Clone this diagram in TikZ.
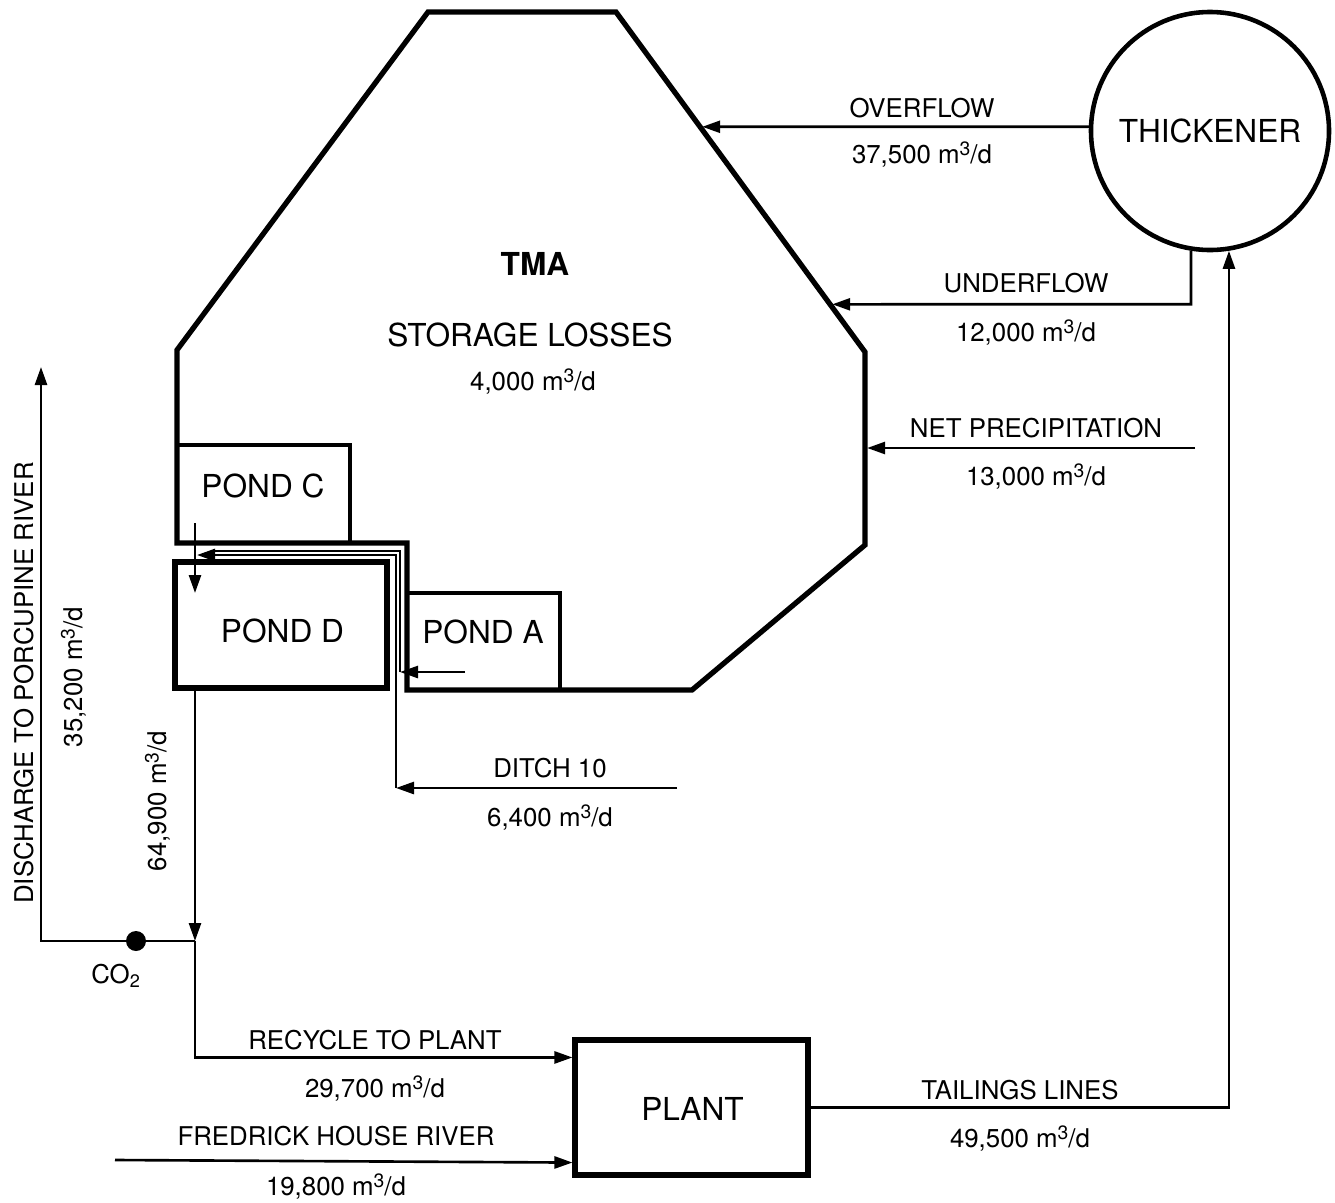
\documentclass[tikz,border=0pt]{standalone}
\usepackage{fontspec}
\setmainfont{TeX Gyre Heros}
\usetikzlibrary{arrows.meta,positioning,calc}

\newcommand{\flowrate}[1]{#1 m\raisebox{0.55ex}{\fontsize{11}{11}\selectfont 3}/d}

\begin{document}
\begin{tikzpicture}[x=0.2mm,y=-0.2mm,
        flow/.style={line width=1.5pt,-{Triangle[length=3.6mm,width=2.4mm]}},
        pipe/.style={line width=1.5pt},
        wall/.style={line width=3pt,line join=miter},
        pond/.style={draw,line width=2.5pt,inner sep=0pt},
        lbl/.style={font=\fontsize{14.7}{17}\selectfont,anchor=base,inner sep=0pt},
        big/.style={font=\fontsize{18}{21}\selectfont,anchor=base,inner sep=0pt}]
  \useasboundingbox (0,0) rectangle (1335,1202);

  % TMA outline
  \coordinate (t1) at (428,12);
  \coordinate (t2) at (616,12);
  \coordinate (t3) at (865,352);
  \coordinate (t4) at (865,545);
  \coordinate (t5) at (692,690);
  \coordinate (t6) at (407,690);
  \coordinate (t7) at (407,543);
  \coordinate (t8) at (177,543);
  \coordinate (t9) at (177,350);
  \draw[wall] (t1) -- (t2) -- (t3) -- (t4) -- (t5) -- (t6) -- (t7) -- (t8) -- (t9) -- cycle;
  \node[big,font=\fontsize{18}{21}\selectfont\bfseries] (tma) at (535,275) {TMA};
  \node[big] (storage) at (530,346) {STORAGE LOSSES};
  \node[lbl] (storageRate) at (533,390) {\flowrate{4,000}};

  % ponds
  \node[pond,minimum width=34.6mm,minimum height=19.6mm] (pondC) at (263.5,494) {};
  \node[pond,minimum width=30.6mm,minimum height=19.4mm] (pondA) at (483.5,641.5) {};
  \node[pond,line width=3.1pt,minimum width=42.4mm,minimum height=25.2mm] (pondD) at (281,625) {};
  \node[big] (pondCName) at (263,497) {POND C};
  \node[big] (pondDName) at (282.5,642) {POND D};
  \node[big] (pondAName) at (483,643) {POND A};

  % thickener and plant
  \node[draw,circle,line width=2.6pt,minimum size=47.6mm,inner sep=0pt] (thick) at (1210,131) {};
  \node[big] (thickName) at (1210,142) {THICKENER};
  \node[draw,line width=2.9pt,minimum width=46.6mm,minimum height=27mm,inner sep=0pt] (plant) at (691.5,1107.5) {};
  \node[big] (plantName) at (692.5,1120) {PLANT};

  % overflow
  \coordinate (ovS) at (thick.178);
  \coordinate (ovE) at (ovS -| t1);
  \draw[flow,shorten >=1.2pt] (ovS) -- (intersection of t2--t3 and ovS--ovE);
  \node[lbl] (ovName) at (922,117) {OVERFLOW};
  \node[lbl] (ovRate) at (922,163) {\flowrate{37,500}};

  % underflow
  \path (thick.261) ++(0,53.5) coordinate (ufC);
  \coordinate (ufE) at (ufC -| t1);
  \draw[flow,shorten >=1.2pt] (thick.261) -- (ufC) -- (intersection of t2--t3 and ufC--ufE);
  \node[lbl] (ufName) at (1026,292) {UNDERFLOW};
  \node[lbl] (ufRate) at (1026,341) {\flowrate{12,000}};

  % net precipitation
  \coordinate (npS) at (1195,448);
  \draw[flow,shorten >=1.2pt] (npS) -- (npS -| t4);
  \node[lbl] (npName) at (1036,437) {NET PRECIPITATION};
  \node[lbl] (npRate) at (1036,485) {\flowrate{13,000}};

  % ditch 10 and pond A to pond D
  \coordinate (dtS) at (677,788);
  \coordinate (dtE) at (396,788);
  \coordinate (dtC) at (396,555);
  \coordinate (dtIn) at (197,555);
  \draw[flow] (dtS) -- (dtE);
  \draw[flow] (dtE) -- (dtC) -- (dtIn);
  \coordinate (paS) at (465,672);
  \coordinate (paE) at (400,672);
  \coordinate (paC) at (400,551);
  \coordinate (paIn) at (213,551);
  \draw[flow] (paS) -- (paE);
  \draw[pipe] (paE) -- (paC) -- (paIn);
  \node[lbl] (dtName) at (550,777) {DITCH 10};
  \node[lbl] (dtRate) at (550,826) {\flowrate{6,400}};

  % pond C to pond D
  \coordinate (pcOut) at (195,523);
  \coordinate (pdIn) at (195,593);
  \draw[flow] (pcOut) -- (pdIn);

  % pond D outflow, discharge and recycle
  \coordinate (jn) at (195,941);
  \coordinate (dc1) at (41,941);
  \coordinate (dcEnd) at (41,367);
  \draw[flow] (jn |- pondD.south) -- (jn);
  \draw[flow] (jn) -- (dc1) -- (dcEnd);
  \node[circle,fill,inner sep=0pt,minimum size=4mm] (co2dot) at (136,941) {};
  \node[lbl] (co2) at (116,983) {CO\textsubscript{2}};
  \node[lbl,rotate=90] (pdRate) at (166,801) {\flowrate{64,900}};
  \node[lbl,rotate=90] (dcName) at (33,683) {DISCHARGE TO PORCUPINE RIVER};
  \node[lbl,rotate=90] (dcRate) at (82,677) {\flowrate{35,200}};
  \coordinate (rcIn) at ($(plant.north west)+(0,20)$);
  \draw[flow] (jn) |- (rcIn);
  \node[lbl] (rcName) at (375,1049) {RECYCLE TO PLANT};
  \node[lbl] (rcRate) at (375,1097) {\flowrate{29,700}};

  % fredrick house river
  \coordinate (frS) at (115,1160);
  \coordinate (frIn) at ($(plant.south west)+(0,-15)$);
  \draw[flow] (frS) -- (frIn);
  \node[lbl] (frName) at (336,1145) {FREDRICK HOUSE RIVER};
  \node[lbl] (frRate) at (336,1195) {\flowrate{19,800}};

  % tailings
  \draw[flow] (plant.east) -| (thick.279);
  \node[lbl] (tlName) at (1020,1099) {TAILINGS LINES};
  \node[lbl] (tlRate) at (1020,1147) {\flowrate{49,500}};
\end{tikzpicture}
\end{document}
